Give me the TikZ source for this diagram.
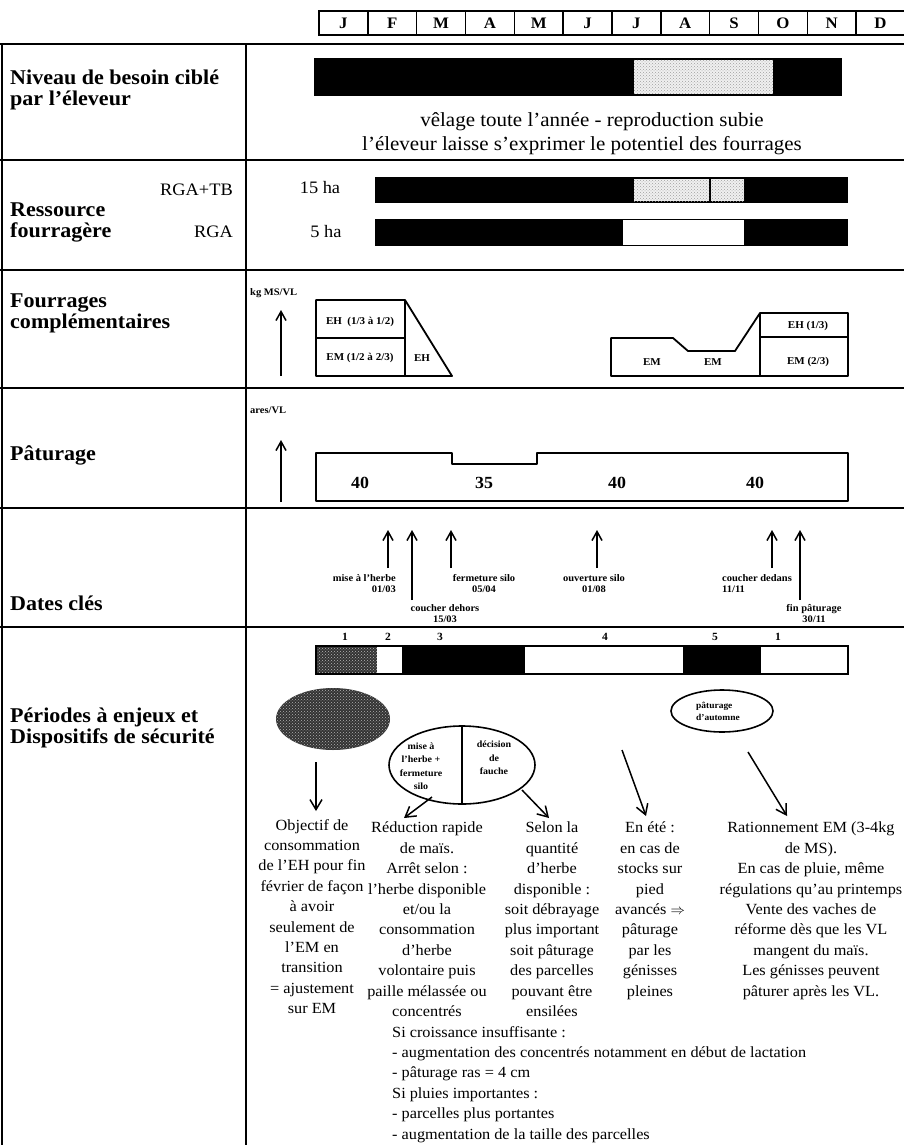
\documentclass[tikz,border=0pt]{standalone}
\usepackage{fontspec}
\setmainfont{Liberation Serif}[FakeStretch=1.05]
\usetikzlibrary{arrows.meta,shapes.geometric,patterns}

\begin{document}
\begin{tikzpicture}[x=1pt, y=-1pt,
  sepline/.style={line width=1.8pt},
  fshape/.style={line width=1.8pt, line join=round},
  mbox/.style={draw, line width=1.6pt, minimum width=48.83pt, minimum height=24pt,
    inner sep=0pt, font=\fontsize{16}{16}\selectfont\bfseries},
  rowhead/.style={anchor=west, align=left, inner sep=0pt,
    font=\fontsize{21}{21}\selectfont\bfseries},
  midtxt/.style={inner sep=0pt, font=\fontsize{20}{22}\selectfont},
  hatxt/.style={inner sep=0pt, font=\fontsize{17.5}{19}\selectfont},
  lbltxt/.style={inner sep=0pt, font=\fontsize{10.5}{12}\selectfont\bfseries},
  numtxt/.style={inner sep=0pt, font=\fontsize{17}{18}\selectfont\bfseries},
  datetxt/.style={inner sep=0pt, font=\fontsize{10}{11.5}\selectfont\bfseries},
  pertxt/.style={inner sep=0pt, font=\fontsize{11}{12}\selectfont\bfseries},
  elltxt/.style={inner sep=0pt, align=center, font=\fontsize{9.5}{13.5}\selectfont\bfseries},
  coltxt/.style={inner sep=0pt, anchor=north, align=center,
    font=\fontsize{15.5}{20.4}\selectfont, execute at begin node=\strut},
  textured/.style={preaction={fill=gray!12}, pattern=crosshatch dots, pattern color=gray!75},
  uparr/.style={line width=1.5pt, -{Straight Barb[length=9pt, width=10pt]}},
  downarr/.style={line width=1.5pt, -{Straight Barb[length=10pt, width=12pt]}},
]
\useasboundingbox (0,0) rectangle (904,1145);

%% ---- Mois ----
\foreach \m [count=\i from 0] in {J,F,M,A,M,J,J,A,S,O,N,D}
  \node[mbox] (mo\i) at ({319+(\i+0.5)*48.83},23) {\m};

%% ---- Tableau ----
\foreach \ya in {44,160,270,388,508,627} \draw[sepline] (0,\ya) -- (904,\ya);
\draw[sepline] (2,44) -- (2,1145);
\draw[sepline] (246,44) -- (246,1145);

%% ---- Niveau de besoin ----
\node[rowhead] (niv) at (10,90) {Niveau de besoin ciblé\\par l'éleveur};
\fill (314,58) rectangle (842,96);
\path[textured] (634,60) rectangle (773,94);
\node[midtxt] (vel) at (592,122) {vêlage toute l'année - reproduction subie};
\node[midtxt] (pot) at (582,146) {l'éleveur laisse s'exprimer le potentiel des fourrages};

%% ---- Ressource fourragere ----
\node[rowhead] (res) at (10,222) {Ressource\\fourragère};
\node[hatxt, anchor=east] (rgatb) at (233,190) {RGA+TB};
\node[hatxt, anchor=east] (rga) at (233,232) {RGA};
\node[hatxt] (ha15) at (320,188) {15 ha};
\node[hatxt] (ha5) at (326,232) {5 ha};
\fill (375,177) rectangle (848,203);
\path[textured] (634,179) rectangle (709,201);
\path[textured] (711,179) rectangle (744,201);
\fill (375,219) rectangle (848,246);
\fill[white] (623,220) rectangle (744,245);

%% ---- Fourrages complementaires ----
\node[rowhead] (fou) at (10,313) {Fourrages\\complémentaires};
\node[datetxt, anchor=west] (kg) at (250,293) {kg MS/VL};
\coordinate (kg0) at (281,376);
\coordinate (kg1) at (281,310);
\draw[uparr] (kg0) -- (kg1);
\draw[fshape] (316,300) -- (405,300) -- (452,376) -- (316,376) -- cycle;
\draw[fshape] (405,300) -- (405,376);
\draw[fshape] (316,338) -- (405,338);
\node[lbltxt] (eh1) at (360,322) {EH\ \ (1/3 à 1/2)};
\node[lbltxt] (em1) at (360,358) {EM (1/2 à 2/3)};
\node[lbltxt] (eh2) at (422,358) {EH};
\draw[fshape] (611,376) -- (611,338) -- (673,338) -- (688,351) -- (735,351)
  -- (760,313) -- (848,313) -- (848,376) -- cycle;
\draw[fshape] (760,313) -- (760,376);
\draw[fshape] (760,337) -- (848,337);
\node[lbltxt] (em2) at (652,362) {EM};
\node[lbltxt] (em3) at (713,362) {EM};
\node[lbltxt] (eh3) at (808,326) {EH (1/3)};
\node[lbltxt] (em4) at (808,362) {EM (2/3)};

%% ---- Paturage ----
\node[rowhead] (pat) at (10,455) {Pâturage};
\node[datetxt, anchor=west] (ares) at (250,410) {ares/VL};
\coordinate (ar0) at (281,502);
\coordinate (ar1) at (281,440);
\draw[uparr] (ar0) -- (ar1);
\draw[fshape] (316,453) -- (452,453) -- (452,464) -- (537,464) -- (537,453)
  -- (848,453) -- (848,501) -- (316,501) -- cycle;
\node[numtxt] (p1) at (360,483) {40};
\node[numtxt] (p2) at (484,483) {35};
\node[numtxt] (p3) at (617,483) {40};
\node[numtxt] (p4) at (755,483) {40};

%% ---- Dates cles ----
\node[rowhead] (dat) at (10,603) {Dates clés};
\foreach \nm/\xa/\ya in {mh/388/568, cd/412/600, fs/451/568, os/597/568, cn/772/568, fp/800/600} {
  \coordinate (\nm0) at (\xa,\ya);
  \coordinate (\nm1) at (\xa,530);
  \draw[uparr] (\nm0) -- (\nm1);
}
\node[datetxt, align=right, anchor=north east] (mhl) at (396,574) {mise à l'herbe\\01/03};
\node[datetxt, align=center, anchor=north] (cdl) at (445,604) {coucher dehors\\15/03};
\node[datetxt, align=center, anchor=north] (fsl) at (484,574) {fermeture silo\\05/04};
\node[datetxt, align=center, anchor=north] (osl) at (594,574) {ouverture silo\\01/08};
\node[datetxt, align=left, anchor=north west] (cnl) at (722,574) {coucher dedans\\11/11};
\node[datetxt, align=center, anchor=north] (fpl) at (814,604) {fin pâturage\\30/11};

%% ---- Periodes a enjeux ----
\node[rowhead] (per) at (10,728) {Périodes à enjeux et\\Dispositifs de sécurité};
\foreach \t/\xa [count=\k] in {1/345, 2/388, 3/440, 4/605, 5/715, 1/778}
  \node[pertxt] (pl\k) at (\xa,637) {\t};
\path[preaction={fill=black!80}, pattern=crosshatch dots, pattern color=gray!55]
  (316,646) rectangle (377,674);
\fill (402,646) rectangle (525,674);
\fill (683,646) rectangle (761,674);
\draw[line width=1.4pt] (316,646) rectangle (848,674);

\node[ellipse, minimum width=114pt, minimum height=62pt, inner sep=0pt,
  preaction={fill=black!80}, pattern=crosshatch dots, pattern color=gray!60] (obj) at (333,719) {};
\node[ellipse, draw, line width=1.6pt, minimum width=146pt, minimum height=78pt] (mis) at (462,765) {};
\draw[line width=1.6pt] (mis.north) -- (mis.south);
\node[elltxt] (misl) at (421,766) {mise à\\l'herbe +\\fermeture\\silo};
\node[elltxt] (misr) at (494,758) {décision\\de\\fauche};
\node[ellipse, draw, line width=1.6pt, minimum width=102pt, minimum height=42pt] (aut) at (722,711) {};
\node[elltxt, align=left, font=\fontsize{9}{12}\selectfont\bfseries] (autl) at (718,711) {pâturage\\d'automne};

\coordinate (a1s) at (316,762);  \coordinate (a1e) at (316,811);
\coordinate (a2s) at (432,797);  \coordinate (a2e) at (404,818);
\coordinate (a3s) at (522,790);  \coordinate (a3e) at (549,818);
\coordinate (a4s) at (622,750);  \coordinate (a4e) at (646,816);
\coordinate (a5s) at (748,752);  \coordinate (a5e) at (787,816);
\foreach \a in {1,...,5} \draw[downarr] (a\a s) -- (a\a e);

\node[coltxt] (c1) at (312,819) {Objectif de\\consommation\\de l'EH pour fin\\février de façon\\à avoir\\seulement de\\l'EM en\\transition\\= ajustement\\sur EM};
\node[coltxt] (c2) at (427,822) {Réduction rapide\\de maïs.\\Arrêt selon :\\l'herbe disponible\\et/ou la\\consommation\\d'herbe\\volontaire puis\\paille mélassée ou\\concentrés};
\node[coltxt] (c3) at (552,822) {Selon la\\quantité\\d'herbe\\disponible :\\soit débrayage\\plus important\\soit pâturage\\des parcelles\\pouvant être\\ensilées};
\node[coltxt] (c4) at (650,822) {En été :\\en cas de\\stocks sur\\pied\\avancés $\Rightarrow$\\pâturage\\par les\\génisses\\pleines};
\node[coltxt] (c5) at (811,822) {Rationnement EM (3-4kg\\de MS).\\En cas de pluie, même\\régulations qu'au printemps\\Vente des vaches de\\réforme dès que les VL\\mangent du maïs.\\Les génisses peuvent\\pâturer après les VL.};
\node[coltxt, anchor=north west, align=left] (sib) at (392,1026) {Si croissance insuffisante :\\- augmentation des concentrés notamment en début de lactation\\- pâturage ras = 4 cm\\Si pluies importantes :\\- parcelles plus portantes\\- augmentation de la taille des parcelles};

\end{tikzpicture}
\end{document}
